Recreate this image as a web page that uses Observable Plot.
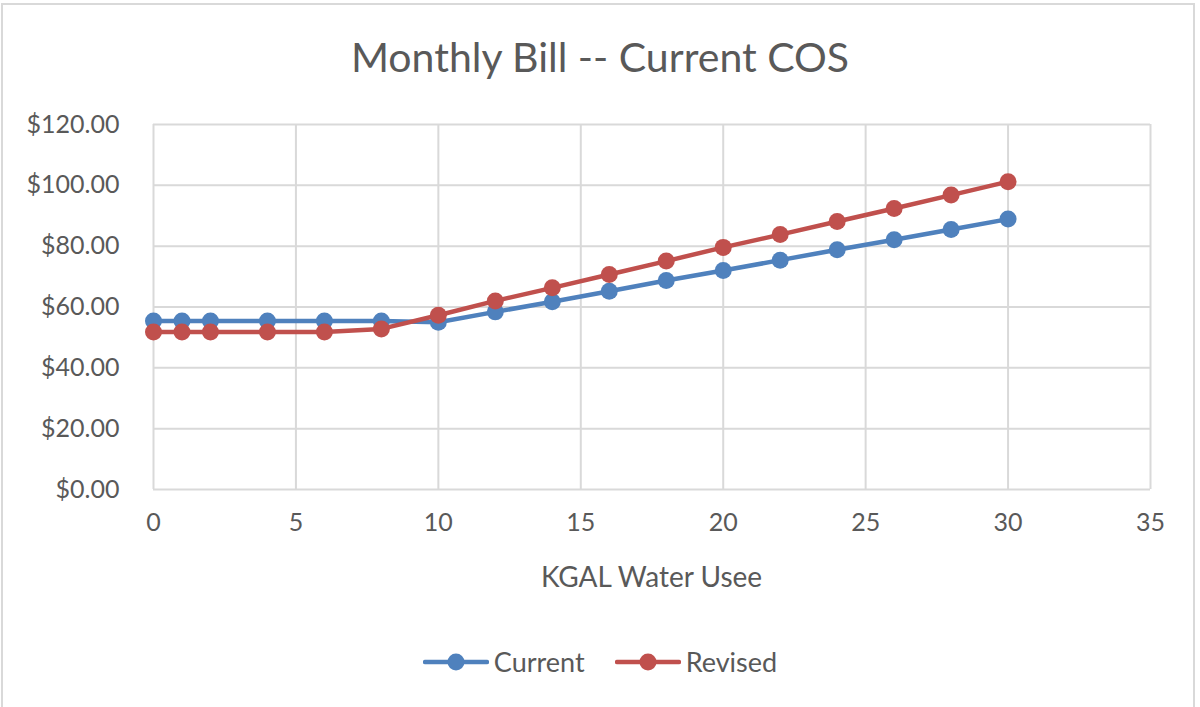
<!DOCTYPE html>
<html>
<head>
<meta charset="utf-8">
<script src="https://cdn.jsdelivr.net/npm/d3@7"></script>
<script src="https://cdn.jsdelivr.net/npm/@observablehq/plot@0.6"></script>
<style>
  html, body { margin: 0; padding: 0; background: #fff; }
  #wrap { position: relative; width: 1200px; height: 707px; font-family: Lato, "Open Sans", sans-serif; color: #595959; }
  #border { position: absolute; left: 1px; top: 3px; width: 1194px; height: 720px; border: 2px solid #D9D9D9; box-sizing: border-box; }
  #title { position: absolute; left: 0; width: 1200px; top: 32px; text-align: center; font-size: 41px; line-height: 50px; }
  #xlabel { position: absolute; left: 153px; width: 997px; top: 559px; text-align: center; font-size: 28px; line-height: 34px; }
  #legend { position: absolute; left: 0; width: 1200px; top: 645px; display: flex; justify-content: center; gap: 30px; font-size: 27px; line-height: 34px; }
  .item { display: flex; align-items: center; gap: 5px; }
  svg.plot { position: absolute; left: 0; top: 0; }
</style>
</head>
<body>
<div id="wrap">
  <div id="border"></div>
  <div id="chart"></div>
  <div id="title"></div>
  <div id="xlabel"></div>
  <div id="legend"></div>
</div>
<script>
const titleText = "Monthly Bill -- Current COS";
const xLabel = "KGAL Water Usee";
const usage = [0, 1, 2, 4, 6, 8, 10, 12, 14, 16, 18, 20, 22, 24, 26, 28, 30];
const current = [55.4, 55.4, 55.4, 55.4, 55.4, 55.4, 55.0, 58.4, 61.7, 65.2, 68.7, 72.0, 75.4, 78.8, 82.1, 85.5, 88.9];
const revised = [51.8, 51.8, 51.8, 51.8, 51.8, 52.8, 57.3, 62.0, 66.3, 70.7, 75.1, 79.6, 83.8, 88.1, 92.4, 96.8, 101.2];
const seriesNames = ["Current", "Revised"];
const seriesColors = ["#4F81BD", "#C0504D"];
const xTicks = [0, 5, 10, 15, 20, 25, 30, 35];
const yTicks = [0, 20, 40, 60, 80, 100, 120];

const rows = [];
usage.forEach((u, i) => {
  rows.push({x: u, y: current[i], s: seriesNames[0]});
});
usage.forEach((u, i) => {
  rows.push({x: u, y: revised[i], s: seriesNames[1]});
});

const fmt = d => "$" + d.toFixed(2);
const chart = Plot.plot({
  width: 1200,
  height: 707,
  marginLeft: 153,
  marginRight: 50,
  marginTop: 124,
  marginBottom: 218,
  style: {fontFamily: "Lato, 'Open Sans', sans-serif", fontSize: "25px", color: "#595959", background: "transparent"},
  x: {domain: [0, 35], ticks: xTicks, tickSize: 0, tickPadding: 26, label: null},
  y: {domain: [0, 120], ticks: yTicks, tickSize: 0, tickPadding: 34, label: null, tickFormat: fmt},
  color: {domain: seriesNames, range: seriesColors},
  marks: [
    Plot.gridX(xTicks, {stroke: "#D9D9D9", strokeOpacity: 1, strokeWidth: 2}),
    Plot.gridY(yTicks, {stroke: "#D9D9D9", strokeOpacity: 1, strokeWidth: 2}),
    Plot.lineY(rows, {x: "x", y: "y", z: "s", stroke: "s", strokeWidth: 4.5}),
    Plot.dot(rows, {x: "x", y: "y", fill: "s", r: 8.5}),
    Plot.axisX({ticks: xTicks, tickSize: 0, tickPadding: 24, fontSize: 25, label: null}),
    Plot.axisY({ticks: yTicks, tickSize: 0, tickPadding: 34, fontSize: 25, label: null, tickFormat: fmt})
  ]
});
document.getElementById("chart").appendChild(chart);
document.getElementById("title").textContent = titleText;
document.getElementById("xlabel").textContent = xLabel;

const legend = document.getElementById("legend");
seriesNames.forEach((name, i) => {
  const item = document.createElement("div");
  item.className = "item";
  item.innerHTML = `<svg width="66" height="20"><line x1="2" y1="10" x2="64" y2="10" stroke="${seriesColors[i]}" stroke-width="4.5" stroke-linecap="round"/><circle cx="33" cy="10" r="8.5" fill="${seriesColors[i]}"/></svg><span>${name}</span>`;
  legend.appendChild(item);
});
</script>
</body>
</html>
